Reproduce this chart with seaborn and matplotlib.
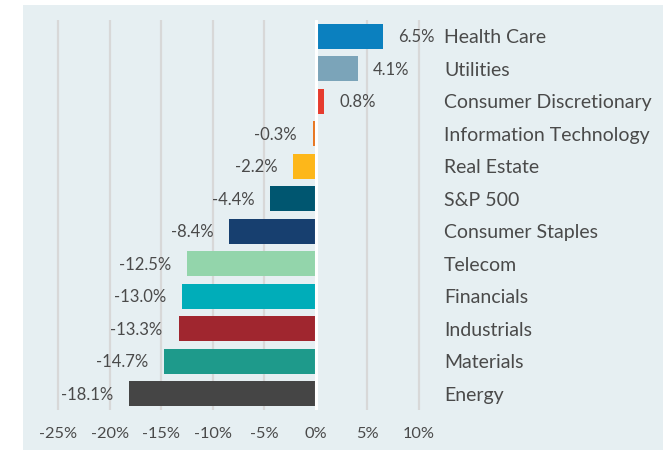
import numpy as np
import pandas as pd
import matplotlib.pyplot as plt
import seaborn as sns
from matplotlib.patches import Rectangle

sectors = ["Health Care", "Utilities", "Consumer Discretionary", "Information Technology",
           "Real Estate", "S&P 500", "Consumer Staples", "Telecom", "Financials",
           "Industrials", "Materials", "Energy"]
returns = [6.5, 4.1, 0.8, -0.3, -2.2, -4.4, -8.4, -12.5, -13.0, -13.3, -14.7, -18.1]
colors = ["#0B80BF", "#7BA4B9", "#E63B2E", "#E87722", "#FDB71A", "#005670",
          "#173F6F", "#93D5AB", "#00ADB9", "#A0262F", "#1E9A8B", "#454545"]
xticks = [-25, -20, -15, -10, -5, 0, 5, 10]

sns.set_style("white")
plt.rcParams['font.family'] = ['Lato', 'DejaVu Sans']

df = pd.DataFrame({"sector": sectors, "ret": returns})

fig = plt.figure(figsize=(6.63, 4.5), dpi=100)
bg = Rectangle((23 / 663, 0), 1, 445 / 450, transform=fig.transFigure,
               facecolor="#E6EFF2", edgecolor="none", zorder=-10)
fig.add_artist(bg)

ax = fig.add_axes([47.7 / 663, 40 / 450, (429.3 - 47.7) / 663, 390 / 450])
ax.set_zorder(1)
ax.set_facecolor("none")

sns.barplot(data=df, x="ret", y="sector", hue="sector", palette=colors,
            legend=False, width=0.78, orient="h", ax=ax, zorder=3,
            saturation=1, linewidth=0)

ax.set_xlim(-26, 11)
ax.set_ylim(11.5, -0.5)
ax.set_xticks(xticks)
ax.set_xticklabels([f"{t}%" for t in xticks], fontsize=11.8, color="#4A4A4A")
for t in xticks:
    if t != 0:
        ax.axvline(t, color="#D8D8D8", lw=1.6, zorder=1)
ax.axvline(0, color="white", lw=2.2, zorder=4)

ax.yaxis.tick_right()
ax.tick_params(axis="y", length=0, pad=10.5, labelsize=14, labelcolor="#4A4A4A")
ax.tick_params(axis="x", length=0, pad=12)
ax.set_xlabel("")
ax.set_ylabel("")
for s in ax.spines.values():
    s.set_visible(False)

for i, v in enumerate(returns):
    off = 15 if v >= 0 else -16
    ax.annotate(f"{v:.1f}%", (v, i), xytext=(off, -1), textcoords="offset pixels",
                ha="left" if v >= 0 else "right", va="center",
                fontsize=12, color="#4A4A4A")

fig.savefig("out.png", dpi=100)
